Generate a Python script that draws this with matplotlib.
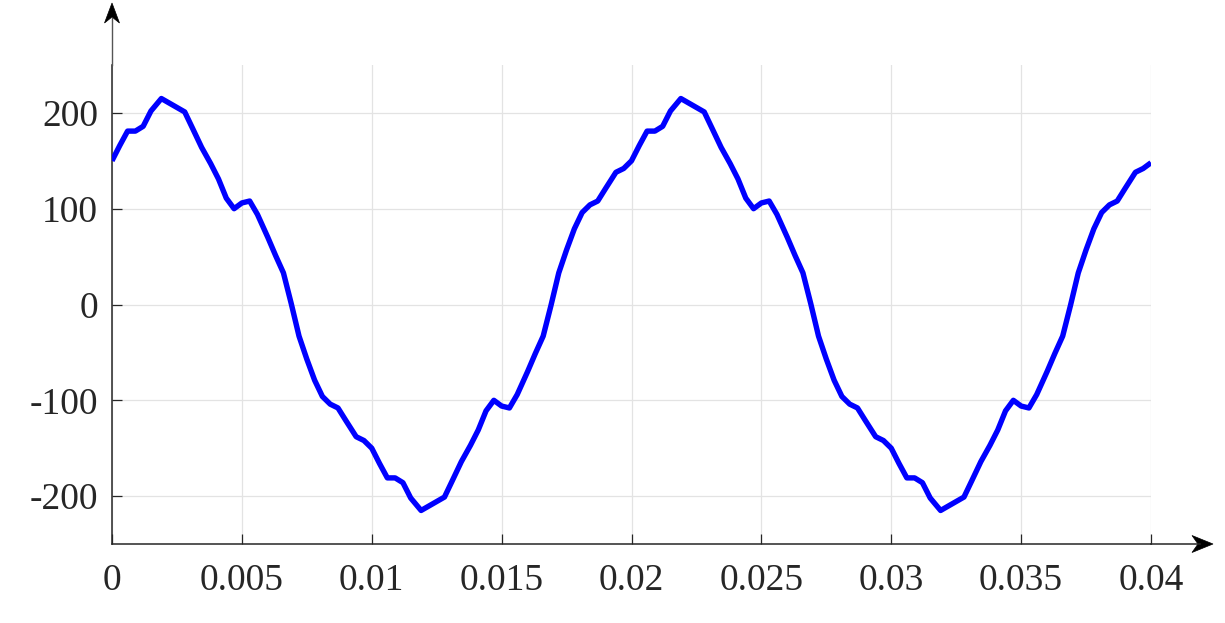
import numpy as np
import matplotlib
matplotlib.use('Agg')
import matplotlib.pyplot as plt
from matplotlib.patches import Polygon

# sample times (ms) and waveform values
t_ms = [0, 0.3, 0.6, 0.9, 1.2, 1.5, 1.9, 2.35, 2.8, 3.1, 3.45, 3.8, 4.1, 4.4, 4.7,
        5.0, 5.3, 5.6, 6.0, 6.3, 6.6, 6.9, 7.2, 7.5, 7.8, 8.1, 8.4, 8.7, 9.0, 9.4, 9.7,
        10.0, 10.3, 10.6, 10.9, 11.2, 11.5, 11.9, 12.35, 12.8, 13.1, 13.45, 13.8, 14.1, 14.4, 14.7,
        15.0, 15.3, 15.6, 16.0, 16.3, 16.6, 16.9, 17.2, 17.5, 17.8, 18.1, 18.4, 18.7, 19.0, 19.4, 19.7,
        20.0, 20.3, 20.6, 20.9, 21.2, 21.5, 21.9, 22.35, 22.8, 23.1, 23.45, 23.8, 24.1, 24.4, 24.7,
        25.0, 25.3, 25.6, 26.0, 26.3, 26.6, 26.9, 27.2, 27.5, 27.8, 28.1, 28.4, 28.7, 29.0, 29.4, 29.7,
        30.0, 30.3, 30.6, 30.9, 31.2, 31.5, 31.9, 32.35, 32.8, 33.1, 33.45, 33.8, 34.1, 34.4, 34.7,
        35.0, 35.3, 35.6, 36.0, 36.3, 36.6, 36.9, 37.2, 37.5, 37.8, 38.1, 38.4, 38.7, 39.0, 39.4, 39.7,
        40.0]

values = [150, 166, 181, 181, 186, 202, 215, 208, 201, 184, 164, 147, 131, 111, 100,
          106, 108, 94, 70, 51, 33, 1, -33, -57, -79, -96, -104, -108, -121, -138, -142,
          -150, -166, -181, -181, -186, -202, -215, -208, -201, -184, -164, -147, -131, -111, -100,
          -106, -108, -94, -70, -51, -33, -1, 33, 57, 79, 96, 104, 108, 121, 138, 142,
          150, 166, 181, 181, 186, 202, 215, 208, 201, 184, 164, 147, 131, 111, 100,
          106, 108, 94, 70, 51, 33, 1, -33, -57, -79, -96, -104, -108, -121, -138, -142,
          -150, -166, -181, -181, -186, -202, -215, -208, -201, -184, -164, -147, -131, -111, -100,
          -106, -108, -94, -70, -51, -33, -1, 33, 57, 79, 96, 104, 108, 121, 138, 142,
          148]

x_ticks = [0, 0.005, 0.01, 0.015, 0.02, 0.025, 0.03, 0.035, 0.04]
x_labels = ['0', '0.005', '0.01', '0.015', '0.02', '0.025', '0.03', '0.035', '0.04']
y_ticks = [-200, -100, 0, 100, 200]
y_labels = ['-200', '-100', '0', '100', '200']

plt.rcParams['font.family'] = ['Liberation Serif', 'DejaVu Serif']

W, H = 1225, 623
fig = plt.figure(figsize=(W / 100, H / 100), dpi=100)
ax = fig.add_axes([112 / W, 1 - 544 / H, (1151 - 112) / W, (544 - 65) / H])

t = np.array(t_ms) / 1000.0
ax.plot(t, values, color='#0000ff', linewidth=3.9, solid_joinstyle='round',
        solid_capstyle='butt', zorder=3)

ax.set_xlim(0, 0.04)
ax.set_ylim(-250, 250)
ax.set_xticks(x_ticks)
ax.set_xticklabels(x_labels)
ax.set_yticks(y_ticks)
ax.set_yticklabels(y_labels)
ax.grid(True, color='#e3e3e3', linewidth=0.9)
ax.set_axisbelow(True)

for side in ['top', 'right']:
    ax.spines[side].set_visible(False)
for side in ['left', 'bottom']:
    ax.spines[side].set_color('#262626')
    ax.spines[side].set_linewidth(1.1)

ax.tick_params(direction='in', length=7, width=0.9, color='#262626',
               labelsize=27, labelcolor='#262626')
ax.tick_params(axis='x', pad=14)
ax.tick_params(axis='y', pad=10)


def px(x, y):
    return (x / W, 1 - y / H)


# axis arrows
fig.add_artist(plt.Line2D([112 / W, 112 / W], [1 - 65 / H, 1 - 18 / H],
                          color='#555555', linewidth=1.0))
fig.add_artist(plt.Line2D([1151 / W, 1200 / W], [1 - 544 / H, 1 - 544 / H],
                          color='#262626', linewidth=1.1))
up_head = [px(112, 3), px(104.5, 23), px(112, 17), px(119.5, 23)]
right_head = [px(1213, 544), px(1192, 535.5), px(1198, 544), px(1192, 552.5)]
for pts in (up_head, right_head):
    fig.add_artist(Polygon(pts, closed=True, facecolor='black', edgecolor='black',
                           linewidth=0.5, transform=fig.transFigure))

fig.savefig('out.png', dpi=100)
